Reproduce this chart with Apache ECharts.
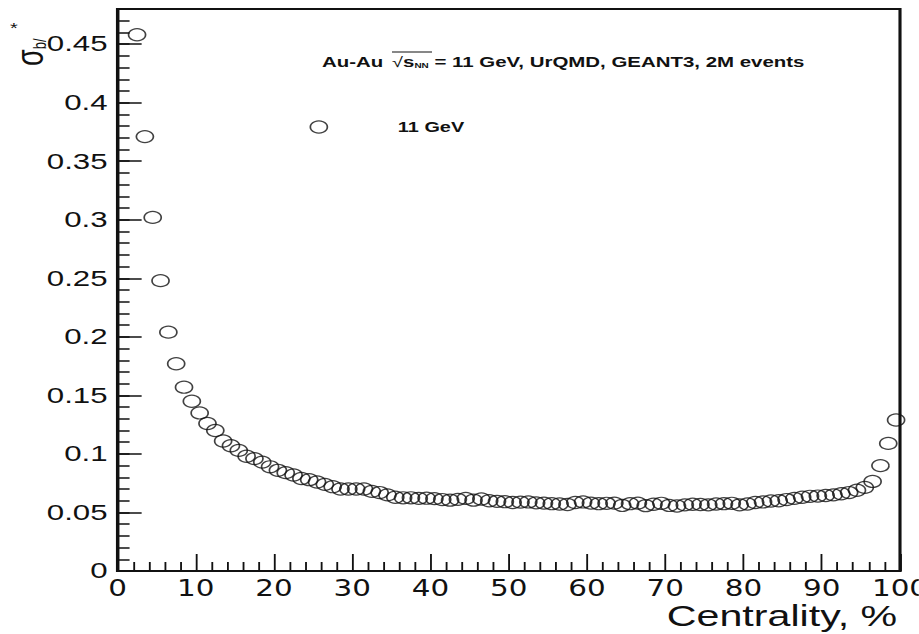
<!DOCTYPE html>
<html>
<head>
<meta charset="utf-8">
<script src="https://cdn.jsdelivr.net/npm/echarts@6/dist/echarts.min.js"></script>
<style>
  html, body { margin: 0; padding: 0; background: #fff; overflow: hidden; }
  #wrap { width: 919px; height: 634px; overflow: hidden; position: relative; }
  #chart { height: 634px; transform-origin: 0 0; }
</style>
</head>
<body>
<div id="wrap"><div id="chart"></div></div>
<script>
// Centrality bin centres (%)
const centrality = [
  2.5, 3.5, 4.5, 5.5, 6.5, 7.5, 8.5, 9.5, 10.5, 11.5,
  12.5, 13.5, 14.5, 15.5, 16.5, 17.5, 18.5, 19.5, 20.5, 21.5,
  22.5, 23.5, 24.5, 25.5, 26.5, 27.5, 28.5, 29.5, 30.5, 31.5,
  32.5, 33.5, 34.5, 35.5, 36.5, 37.5, 38.5, 39.5, 40.5, 41.5,
  42.5, 43.5, 44.5, 45.5, 46.5, 47.5, 48.5, 49.5, 50.5, 51.5,
  52.5, 53.5, 54.5, 55.5, 56.5, 57.5, 58.5, 59.5, 60.5, 61.5,
  62.5, 63.5, 64.5, 65.5, 66.5, 67.5, 68.5, 69.5, 70.5, 71.5,
  72.5, 73.5, 74.5, 75.5, 76.5, 77.5, 78.5, 79.5, 80.5, 81.5,
  82.5, 83.5, 84.5, 85.5, 86.5, 87.5, 88.5, 89.5, 90.5, 91.5,
  92.5, 93.5, 94.5, 95.5, 96.5, 97.5, 98.5, 99.5
];

// Relative impact-parameter resolution, Au-Au 11 GeV
const sigmaB = [
  0.458, 0.371, 0.302, 0.248, 0.204, 0.177, 0.157, 0.145, 0.135, 0.126,
  0.120, 0.111, 0.107, 0.103, 0.098, 0.096, 0.093, 0.089, 0.086, 0.084,
  0.082, 0.079, 0.078, 0.076, 0.074, 0.072, 0.070, 0.070, 0.070, 0.070,
  0.068, 0.067, 0.065, 0.063, 0.0625, 0.0625, 0.062, 0.0622, 0.0618, 0.061,
  0.0605, 0.0612, 0.062, 0.0605, 0.0615, 0.060, 0.0595, 0.0592, 0.0585, 0.0588,
  0.059, 0.0582, 0.058, 0.0575, 0.0572, 0.0568, 0.0585, 0.059, 0.058, 0.0575,
  0.0578, 0.058, 0.056, 0.0575, 0.058, 0.0558, 0.057, 0.0578, 0.056, 0.0555,
  0.0565, 0.057, 0.0568, 0.0565, 0.0572, 0.0575, 0.0578, 0.0565, 0.0572, 0.0585,
  0.059, 0.0598, 0.060, 0.061, 0.062, 0.063, 0.0638, 0.064, 0.0645, 0.065,
  0.066, 0.067, 0.069, 0.0714, 0.0765, 0.090, 0.109, 0.129
];

const seriesName = '11 GeV';
const xTitle = 'Centrality, %';
const headline = ['Au-Au ', '\u221A', 's', 'NN', ' = 11 GeV, UrQMD, GEANT3, 2M events'];

// The whole canvas is drawn narrow and widened horizontally,
// giving the wide open-ellipse markers and broad lettering.
const STRETCH = 1.42;
const W = 919 / STRETCH;
const el = document.getElementById('chart');
el.style.width = W + 'px';
el.style.transform = 'scaleX(' + STRETCH + ')';

const ink = '#111';
const sans = '"Liberation Sans", Arial, Helvetica, sans-serif';
const narrow = '"Liberation Sans Narrow", "DejaVu Sans Condensed", "Liberation Sans", sans-serif';

const gridLeft = 117.5 / STRETCH;
const gridRight = W - 900 / STRETCH;

const chart = echarts.init(el, null, { renderer: 'svg', width: W, height: 634 });

chart.setOption({
  animation: false,
  backgroundColor: '#fff',
  grid: {
    left: gridLeft, right: gridRight, top: 9, bottom: 63,
    containLabel: false, outerBoundsMode: 'none',
    show: true, borderColor: ink, borderWidth: 2.2, backgroundColor: 'transparent'
  },
  legend: {
    data: [{ name: seriesName, icon: 'circle' }],
    left: 318 / STRETCH - 6, top: 120, padding: 0,
    itemWidth: 12, itemHeight: 12,
    itemStyle: { color: 'transparent', borderColor: ink, borderWidth: 1.2 },
    textStyle: {
      fontFamily: sans, fontWeight: 'bold', fontSize: 14, color: ink,
      padding: [2, 0, 0, 397 / STRETCH - (318 / STRETCH + 6) - 5]
    }
  },
  xAxis: {
    type: 'value', min: 0, max: 100, interval: 10,
    axisLine: { show: true, lineStyle: { color: ink, width: 2.2 } },
    axisTick: { show: true, inside: true, length: 17, lineStyle: { color: ink, width: 1.3 } },
    minorTick: { show: true, splitNumber: 5, length: 9, lineStyle: { color: ink, width: 1.3 } },
    splitLine: { show: false },
    axisLabel: { margin: 6, fontFamily: narrow, fontSize: 23, color: ink },
    name: xTitle, nameLocation: 'end', nameGap: -2, nameMoveOverlap: false,
    nameTextStyle: {
      fontFamily: sans, fontSize: 29, color: ink,
      align: 'right', verticalAlign: 'top', padding: [31, 0, 0, 0]
    }
  },
  yAxis: [
    {
      type: 'value', min: 0, max: 0.48, interval: 0.05,
      axisLine: { show: true, lineStyle: { color: ink, width: 2.2 } },
      axisTick: { show: true, inside: true, length: 17, lineStyle: { color: ink, width: 1.5 } },
      splitLine: { show: false },
      axisLabel: { margin: 7, fontFamily: sans, fontSize: 22, color: ink, showMaxLabel: false }
    },
    {
      type: 'value', min: 0, max: 0.48, interval: 0.01, position: 'left',
      axisLine: { show: false },
      axisTick: { show: true, inside: true, length: 8.5, lineStyle: { color: ink, width: 1.5 } },
      axisLabel: { show: false },
      splitLine: { show: false }
    }
  ],
  graphic: [
    {
      type: 'text', x: 21, y: 66, rotation: Math.PI / 2,
      style: {
        text: '{s|\u03C3}{b|b/}',
        rich: {
          s: { fontFamily: sans, fontSize: 27, fill: ink },
          b: { fontFamily: sans, fontSize: 13, fill: ink, verticalAlign: 'bottom' }
        },
        fill: ink, textVerticalAlign: 'middle'
      }
    },
    {
      type: 'text', x: 7, y: 21,
      style: { text: '*', fontFamily: sans, fontSize: 14, fill: ink }
    },
    {
      type: 'text', x: 322 / STRETCH, y: 62,
      style: {
        text: '{t|' + headline[0] + '}{g| }{r|' + headline[1] + '}{t|' + headline[2] + '}{n|' + headline[3] + '}{t|' + headline[4] + '}',
        rich: {
          t: { fontFamily: sans, fontWeight: 'bold', fontSize: 14.4, fill: ink },
          g: { fontFamily: sans, fontSize: 8, fill: ink },
          r: { fontFamily: sans, fontSize: 14, fill: ink },
          n: { fontFamily: sans, fontWeight: 'bold', fontSize: 7, fill: ink, verticalAlign: 'bottom', padding: [6, 0, 0, 0] }
        },
        textVerticalAlign: 'middle'
      }
    },
    {
      type: 'line', shape: { x1: 392 / STRETCH, y1: 52, x2: 432 / STRETCH, y2: 52 },
      style: { stroke: ink, lineWidth: 1 }
    }
  ],
  series: [{
    name: seriesName,
    type: 'scatter',
    yAxisIndex: 0,
    symbol: 'circle',
    symbolSize: 12,
    itemStyle: { color: 'transparent', borderColor: ink, borderWidth: 1.2 },
    emphasis: { disabled: true },
    data: centrality.map((c, i) => [c, sigmaB[i]])
  }]
});
</script>
</body>
</html>
